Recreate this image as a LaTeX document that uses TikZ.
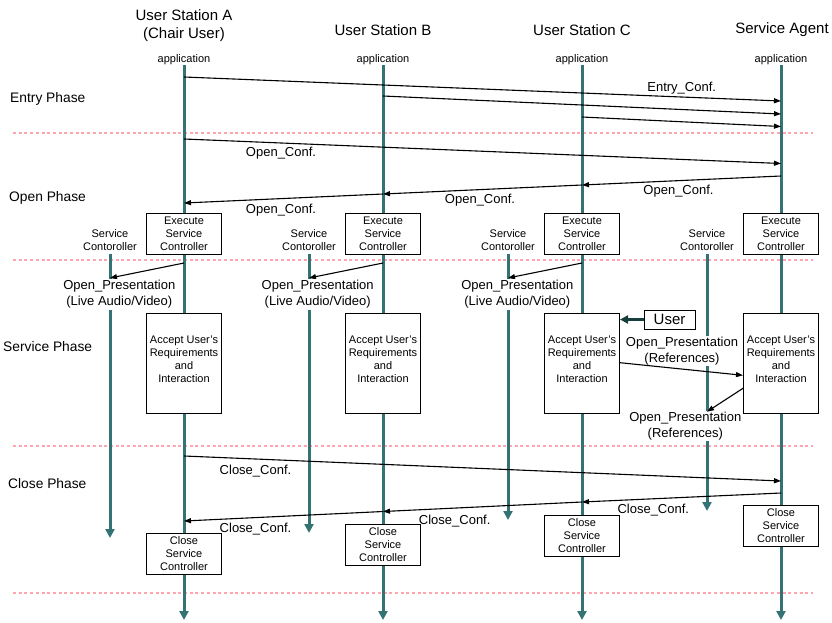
\documentclass[tikz,border=0pt]{standalone}
\usepackage{fontspec}
\setmainfont{Liberation Sans}
\usepackage{xcolor}
\usepackage{tikz}
\usetikzlibrary{positioning, arrows.meta, calc}
\definecolor{lifeteal}{RGB}{51,115,115}
\definecolor{userteal}{RGB}{22,62,62}
\definecolor{phasepink}{RGB}{255,165,175}
\tikzset{title/.style={
    align=center,
    font=\fontsize{15}{18}\selectfont
}}
\tikzset{small/.style={
    align=center,
    inner sep=1pt,
    font=\fontsize{11}{13}\selectfont
}}
\tikzset{phase/.style={
    anchor=west,
    inner sep=0pt,
    font=\fontsize{13.8}{16}\selectfont
}}
\tikzset{msglabel/.style={
    align=center,
    inner sep=1pt,
    font=\fontsize{13}{16}\selectfont
}}
\tikzset{stepbox/.style={
    rectangle,
    draw,
    fill=white,
    line width=1pt,
    minimum width=75pt,
    minimum height=41pt,
    inner sep=1pt,
    align=center,
    font=\fontsize{11}{13}\selectfont
}}
\tikzset{lifeline/.style={
    draw=lifeteal,
    line width=3pt,
    -{Triangle[length=9pt, width=9pt]}
}}
\tikzset{msg/.style={
    line width=1.1pt,
    -{Triangle[length=7pt, width=5pt]}
}}
\tikzset{phaseline/.style={
    draw=phasepink,
    line width=2.5pt,
    dash pattern=on 3pt off 2.7pt
}}

\begin{document}
\begin{tikzpicture}[x=1pt, y=-1pt]
    \useasboundingbox (0,0) rectangle (832,622);
    % Station titles
    \node (titleA) [title] at (184,26) {User Station A\\(Chair User)};
    \node (titleB) [title] at (383,30) {User Station B};
    \node (titleC) [title] at (582,30) {User Station C};
    \node (titleD) [title] at (782,30) {Service Agent};
    % Phase borders
    \foreach \y in {133, 260, 446, 593}
        \draw [phaseline] (13,\y) -- (813,\y);
    \node (entry)   [phase] at (10,99)  {Entry Phase};
    \node (open)    [phase] at (9,198)  {Open Phase};
    \node (service) [phase] at (3,347)  {Service Phase};
    \node (close)   [phase] at (8,484)  {Close Phase};
    % Applications and their lifelines
    \foreach \s/\x in {A/184, B/383, C/582, D/781} {
        \node (app\s) [small] at (\x,59.5) {application};
        \coordinate (top\s) at (\x,65);
        \coordinate (end\s) at (\x,620);
        \draw [lifeline] (top\s) -- (end\s);
    }
    % Service controllers
    \foreach \s/\x/\y in {A/110/538, B/309/533, C/508/520, D/707/511} {
        \node (sc\s) [small] at (\x,240) {Service\\Contoroller};
        \coordinate (scend\s) at (\x,\y);
        \draw [lifeline] (sc\s |- 0,254) -- (scend\s);
    }
    % Boxes on the lifelines
    \foreach \s in {A, B, C, D} {
        \node (exec\s) [stepbox] at (top\s |- 0,233.5) {Execute\\Service\\Controller};
        \node (acc\s) [stepbox, minimum height=100pt] at (top\s |- 0,363)
            {Accept User's\\Requirements\\and\\Interaction\\[-5pt]\mbox{}};
    }
    \foreach \s/\y in {A/554, B/544.5, C/535.5, D/526}
        \node (close\s) [stepbox] at (top\s |- 0,\y) {Close\\Service\\Controller};
    % Conference messages
    \foreach \f/\yf/\t/\yt in {A/77/D/101, B/96/D/114, C/117/D/126.5,
            A/139/D/163.5, D/176/C/185, C/185/B/194, B/194/A/203,
            A/456/D/481, D/493/C/502, C/502/B/511.5, B/511.5/A/521}
        \draw [msg] (top\f |- 0,\yf) -- (top\t |- 0,\yt);
    \node (entrylab) [msglabel] at (681.7,88) {Entry\_Conf.};
    \node (openlab1) [msglabel] at (281,153.3) {Open\_Conf.};
    \node (openlab2) [msglabel] at (678.5,191) {Open\_Conf.};
    \node (openlab3) [msglabel] at (480,200) {Open\_Conf.};
    \node (openlab4) [msglabel] at (281,210) {Open\_Conf.};
    \node (closelab1) [msglabel] at (255.5,470.7) {Close\_Conf.};
    \node (closelab2) [msglabel] at (653.3,510) {Close\_Conf.};
    \node (closelab3) [msglabel] at (454.7,520.7) {Close\_Conf.};
    \node (closelab4) [msglabel] at (255.5,529.3) {Close\_Conf.};
    % Presentations
    \foreach \s/\x in {A/119.3, B/317.7, C/517.3} {
        \draw [msg] (top\s |- 0,263) -- (sc\s |- 0,278);
        \node (pres\s) [msglabel, fill=white] at (\x,294.5)
            {Open\_Presentation\\(Live Audio/Video)};
    }
    \node (user) [draw, fill=white, line width=1pt, inner sep=1pt,
        minimum width=51pt, minimum height=19pt,
        font=\fontsize{15}{18}\selectfont] at (669.5,319.5) {User};
    \draw [userteal, line width=3pt, -{Triangle[length=8pt, width=8pt]}]
        (user.west) -- (accC.east |- user.west);
    \node (reflab1) [msglabel, fill=white] at (682,350.7) {Open\_Presentation\\(References)};
    \node (reflab2) [msglabel, fill=white] at (685.3,425.7) {Open\_Presentation\\(References)};
    \draw [msg] (accC.east |- 0,362.7) -- (accD.west |- 0,375.3);
    \draw [msg] (accD.west |- 0,388.3) -- (scD |- 0,411.7);
\end{tikzpicture}
\end{document}
